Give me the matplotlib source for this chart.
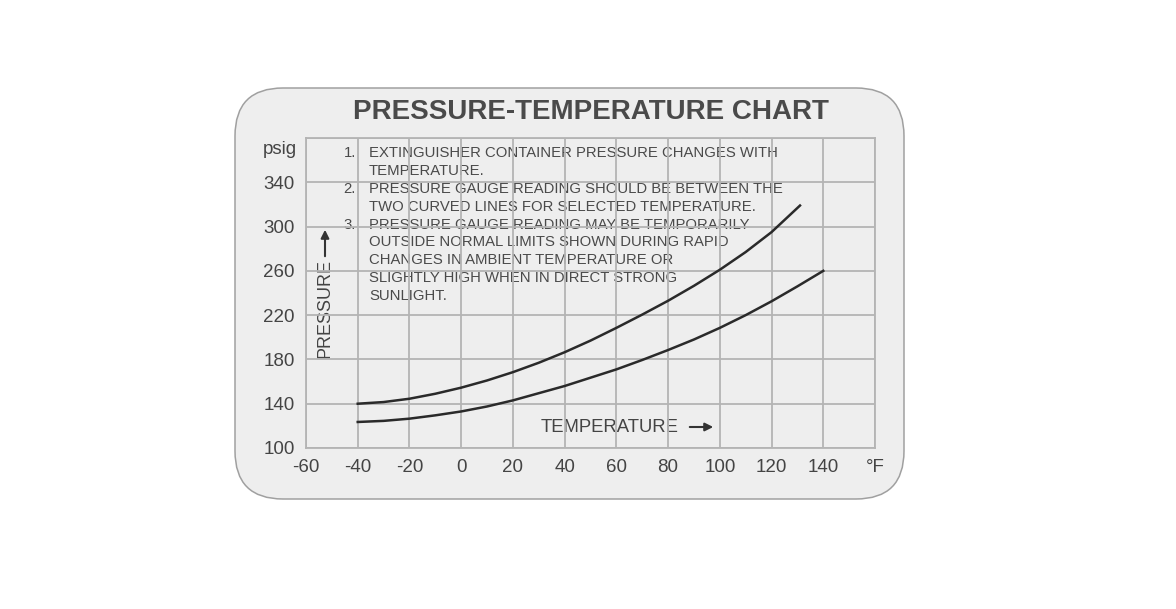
import matplotlib
matplotlib.use("Agg")
import matplotlib.pyplot as plt
from matplotlib.patches import FancyBboxPatch

plt.rcParams['font.family'] = ['Liberation Sans', 'DejaVu Sans']

# curve readings (deg F -> psig)
temp_upper = [-40, -30, -20, -10, 0, 10, 20, 30, 40, 50, 60, 70, 80, 90, 100, 110, 120, 131]
psig_upper = [140, 141.5, 144.5, 149, 154.5, 161, 168.5, 177, 186.5, 197, 208.5, 220.5, 233, 246.5, 261, 277, 295, 319]
temp_lower = [-40, -30, -20, -10, 0, 10, 20, 30, 40, 50, 60, 70, 80, 90, 100, 110, 120, 130, 140]
psig_lower = [123.5, 124.5, 126.5, 129.5, 133, 137.5, 143, 149.5, 156, 163.5, 171, 179.5, 188.5, 198, 208.5, 220, 232.5, 246, 260]

x_ticks = [-60, -40, -20, 0, 20, 40, 60, 80, 100, 120, 140, 160]
x_labels = ['-60', '-40', '-20', '0', '20', '40', '60', '80', '100', '120', '140', '°F']
y_ticks = [100, 140, 180, 220, 260, 300, 340, 380]
y_labels = ['100', '140', '180', '220', '260', '300', '340', '']

notes = [
    ("1.", ["EXTINGUISHER CONTAINER PRESSURE CHANGES WITH", "TEMPERATURE."]),
    ("2.", ["PRESSURE GAUGE READING SHOULD BE BETWEEN THE", "TWO CURVED LINES FOR SELECTED TEMPERATURE."]),
    ("3.", ["PRESSURE GAUGE READING MAY BE TEMPORARILY", "OUTSIDE NORMAL LIMITS SHOWN DURING RAPID",
            "CHANGES IN AMBIENT TEMPERATURE OR", "SLIGHTLY HIGH WHEN IN DIRECT STRONG", "SUNLIGHT."]),
]

W, H = 1176, 609
fig = plt.figure(figsize=(W / 100, H / 100), dpi=100)
fig.patch.set_facecolor('white')

# background card, in pixel coords
bg = fig.add_axes([0, 0, 1, 1])
bg.set_xlim(0, W)
bg.set_ylim(H, 0)
bg.axis('off')
card = FancyBboxPatch((235 + 48, 88 + 48), 669 - 96, 411 - 96,
                      boxstyle="round,pad=48", facecolor='#eeeeee',
                      edgecolor='#a0a0a0', linewidth=1.1)
bg.add_patch(card)
bg.text(591, 112, "PRESSURE-TEMPERATURE CHART", ha='center', va='center',
        fontsize=20, fontweight='bold', color='#4a4a4a')

grid_c = '#b4b4b4'
ax = fig.add_axes([306 / W, 1 - 448 / H, (875 - 306) / W, (448 - 138) / H])
ax.set_facecolor('none')
ax.set_xlim(-60, 160)
ax.set_ylim(100, 380)
ax.set_xticks(x_ticks)
ax.set_xticklabels(x_labels)
ax.set_yticks(y_ticks)
ax.set_yticklabels(y_labels)
ax.tick_params(length=0, labelsize=13.5, labelcolor='#444444', pad=8)
ax.grid(True, color=grid_c, linewidth=1.3)
for s in ax.spines.values():
    s.set_color(grid_c)
    s.set_linewidth(1.3)

ax.plot(temp_upper, psig_upper, color='#2a2a2a', linewidth=1.8, solid_joinstyle='round')
ax.plot(temp_lower, psig_lower, color='#2a2a2a', linewidth=1.8, solid_joinstyle='round')

bg.text(297, 150, "psig", ha='right', va='center', fontsize=13.5, color='#444444')

# notes block
y0, dy = 153, 17.9
row = 0
for num, lines in notes:
    bg.text(356, y0 + row * dy, num, ha='right', va='center', fontsize=10.7, color='#4a4a4a')
    for line in lines:
        bg.text(369, y0 + row * dy, line, ha='left', va='center', fontsize=10.7, color='#4a4a4a')
        row += 1

# axis captions with arrows
bg.text(541, 427, "TEMPERATURE", ha='left', va='center', fontsize=13.3, color='#444444')
bg.annotate("", xy=(716, 427), xytext=(687, 427),
            arrowprops=dict(arrowstyle='-|>', color='#333333', lw=1.5, mutation_scale=12))
bg.text(325, 358, "PRESSURE", ha='center', va='bottom', rotation=90, fontsize=13, color='#444444')
bg.annotate("", xy=(325, 227), xytext=(325, 259),
            arrowprops=dict(arrowstyle='-|>', color='#333333', lw=1.5, mutation_scale=12))

fig.savefig('out.png', dpi=100, facecolor='white')
